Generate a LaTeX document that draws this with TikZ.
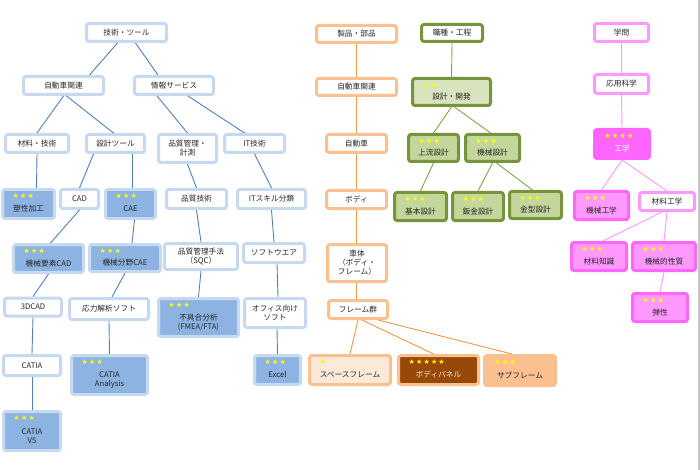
\documentclass[tikz,border=0pt]{standalone}
\usepackage{fontspec}
\setmainfont{Noto Sans CJK JP}
\newfontfamily\symfont{DejaVu Sans}

\definecolor{bluebd}{HTML}{C6D9F1}
\definecolor{bluefl}{HTML}{8DB3E2}
\definecolor{blueln}{HTML}{4F81BD}
\definecolor{orangebd}{HTML}{FAC08F}
\definecolor{orangeln}{HTML}{F79646}
\definecolor{orangelt}{HTML}{FDE9D9}
\definecolor{brownfl}{HTML}{984807}
\definecolor{greenbd}{HTML}{77933C}
\definecolor{greenln}{HTML}{86A34A}
\definecolor{greenlt}{HTML}{D7E4BD}
\definecolor{greenfl}{HTML}{C3D69B}
\definecolor{pinkbd}{HTML}{FF99FF}
\definecolor{pinkfl}{HTML}{FF66FF}
\definecolor{staryel}{HTML}{FFFF00}

\tikzset{
  box/.style={draw, line width=3pt, rounded corners=2.5pt, fill=white, align=center,
    inner sep=1pt, text=black!85, font=\fontsize{7.7}{9}\selectfont},
  bbox/.style={box, draw=bluebd},
  bfill/.style={bbox, fill=bluefl},
  obox/.style={box, draw=orangebd},
  gbox/.style={box, draw=greenbd},
  gfill/.style={gbox, fill=greenfl},
  pbox/.style={box, draw=pinkbd},
  pfill/.style={box, draw=pinkfl, fill=pinkbd},
  wh/.style 2 args={minimum width=#1, minimum height=#2},
  starlbl/.style={anchor=north west, inner sep=0pt, xshift=11.5pt, yshift=-5.5pt,
    text=staryel, font=\symfont\fontsize{7}{7}\selectfont},
  rated/.style={label={[starlbl]north west:#1}},
  link/.style={line width=0.9pt},
}

\begin{document}
\begin{tikzpicture}[x=1pt, y=-1pt]
    \useasboundingbox (0,0) rectangle (700,470);

    % Technology / tools
    \node[bbox, wh={80}{18}] (tool) at (126.5,32.5) {技術・ツール};
    \node[bbox, wh={80}{18}] (auto) at (63.5,85.5) {自動車関連};
    \node[bbox, wh={79}{18}] (info) at (174,85.5) {情報サービス};
    \node[bbox, wh={63}{18}] (mat) at (37,143.5) {材料・技術};
    \node[bbox, wh={58}{18}] (dtool) at (115.5,143.5) {設計ツール};
    \node[bbox, wh={58}{28}] (qm) at (187.5,148.5) {品質管理・\\計測};
    \node[bbox, wh={60}{18}] (it) at (254.5,143.5) {IT技術};
    \node[bfill, wh={52}{29}, rated=★\,★\,★] (plast) at (28.5,204) {\strut\\塑性加工};
    \node[bbox, wh={38}{19}] (cad) at (79.5,199) {CAD};
    \node[bfill, wh={50}{29}, rated=★\,★\,★] (cae) at (130.5,204) {\strut\\CAE};
    \node[bbox, wh={60}{19}] (qtech) at (196.5,199) {品質技術};
    \node[bbox, wh={68}{19}] (itskill) at (271.5,199) {ITスキル分類};
    \node[bfill, wh={70}{28}, rated=★\,★\,★] (mcad) at (48.5,258.5) {\strut\\機械要素CAD};
    \node[bfill, wh={71}{27}, rated=★\,★\,★] (mcae) at (125,258) {\strut\\機械分野CAE};
    \node[bbox, wh={73}{26}] (sqc) at (201,256.5) {品質管理手法\\（SQC）};
    \node[bbox, wh={61}{19}] (soft) at (274,253) {ソフトウエア};
    \node[bbox, wh={57}{18}] (cad3) at (33,307) {3DCAD};
    \node[bbox, wh={79}{21}] (stress) at (109,309) {応力解析ソフト};
    \node[bfill, wh={80}{38}, rated=★\,★\,★] (fmea) at (198.5,317.5) {\strut\\不具合分析\\(FMEA/FTA)};
    \node[bbox, wh={61}{29}] (office) at (275,313) {オフィス向け\\ソフト};
    \node[bbox, wh={57}{20}] (catia) at (32,365.5) {CATIA};
    \node[bfill, wh={76}{39}, rated=★\,★\,★] (ana) at (109.5,375) {\strut\\CATIA\\Analysis};
    \node[bfill, wh={46}{29}, rated=★\,★\,★] (excel) at (277.5,370) {\strut\\Excel};
    \node[bfill, wh={57}{39}, rated=★\,★\,★] (v5) at (32,431) {\strut\\CATIA\\V5};

    \draw[link, blueln] ([xshift=-9]tool.south) -- ([xshift=26]auto.north);
    \draw[link, blueln] ([xshift=9]tool.south) -- ([xshift=-16]info.north);
    \draw[link, blueln] (auto.south) -- (mat.north);
    \draw[link, blueln] ([xshift=3]auto.south) -- ([xshift=-2]dtool.north);
    \draw[link, blueln] ([xshift=-17]info.south) -- (qm.north);
    \draw[link, blueln] ([xshift=14]info.south) -- ([xshift=-10]it.north);
    \draw[link, blueln] (mat.south) -- ([xshift=8]plast.north);
    \draw[link, blueln] ([xshift=-22]dtool.south) -- (cad.north);
    \draw[link, blueln] ([xshift=17]dtool.south) -- ([xshift=2]cae.north);
    \draw[link, blueln] (cad.south) -- ([xshift=2]mcad.north);
    \draw[link, blueln] ([xshift=4]cae.south) -- ([xshift=7]mcae.north);
    \draw[link, blueln] (mcad.south) -- (cad3.north);
    \draw[link, blueln] (mcae.south) -- ([xshift=3]stress.north);
    \draw[link, blueln] (cad3.south) -- (catia.north);
    \draw[link, blueln] (catia.south) -- (v5.north);
    \draw[link, blueln] (stress.south) -- (ana.north);
    \draw[link, blueln] (qm.south) -- (qtech.north);
    \draw[link, blueln] (qtech.south) -- (sqc.north);
    \draw[link, blueln] (sqc.south) -- (fmea.north);
    \draw[link, blueln] (it.south) -- (itskill.north);
    \draw[link, blueln] (itskill.south) -- (soft.north);
    \draw[link, blueln] ([xshift=3]soft.south) -- ([xshift=3]office.north);
    \draw[link, blueln] ([xshift=2]office.south) -- (excel.north);

    % Products / parts
    \node[obox, wh={80}{17}] (prod) at (356.5,34) {製品・部品};
    \node[obox, wh={80}{17}] (oauto) at (356.5,87) {自動車関連};
    \node[obox, wh={60}{18}] (car) at (356.5,143.5) {自動車};
    \node[obox, wh={60}{18}] (body) at (356.5,199.5) {ボディ};
    \node[obox, wh={59}{37}] (shell) at (357,263) {車体\\（ボディ・\\フレーム）};
    \node[obox, wh={59}{18}] (frames) at (358,309.5) {フレーム群};
    \node[obox, fill=orangelt, wh={81}{29}, rated=★] (space) at (350,370) {\strut\\スペースフレーム};
    \node[obox, fill=brownfl, text=white!92!black, wh={80}{29}, rated=★\,★\,★\,★\,★] (panel) at (438.5,370) {\strut\\ボディパネル};
    \node[obox, fill=orangebd, wh={71}{30}, rated=★\,★\,★] (sub) at (520,370.5) {\strut\\サブフレーム};

    \draw[link, orangeln] (prod.south) -- (oauto.north);
    \draw[link, orangeln] (oauto.south) -- (car.north);
    \draw[link, orangeln] (car.south) -- (body.north);
    \draw[link, orangeln] (body.south) -- ([xshift=-0.5]shell.north);
    \draw[link, orangeln] ([xshift=-0.5]shell.south) -- ([xshift=-1.5]frames.north);
    \draw[link, orangeln] (frames.south) -- (space.north);
    \draw[link, orangeln] ([xshift=4]frames.south) -- ([xshift=-5]panel.north);
    \draw[link, orangeln] ([xshift=20]frames.south) -- ([xshift=-8]sub.north);

    % Job / process
    \node[gbox, wh={61}{17}] (job) at (452,33) {職種・工程};
    \node[gbox, fill=greenlt, wh={78}{27}, rated=★\,★] (dev) at (451.5,92) {\strut\\設計・開発};
    \node[gfill, wh={50}{27}, rated=★\,★\,★] (up) at (433.5,148) {\strut\\上流設計};
    \node[gfill, wh={54}{27}, rated=★\,★\,★] (mech) at (492.5,148) {\strut\\機械設計};
    \node[gfill, wh={52}{28}, rated=★\,★\,★] (basic) at (420.5,206.5) {\strut\\基本設計};
    \node[gfill, wh={51}{28}, rated=★\,★\,★] (sheet) at (478,206.5) {\strut\\鈑金設計};
    \node[gfill, wh={52}{27}, rated=★\,★\,★] (die) at (535.5,205) {\strut\\金型設計};

    \draw[link, greenln] (job.south) -- (dev.north);
    \draw[link, greenln] (dev.south) -- (up.north);
    \draw[link, greenln] ([xshift=3]dev.south) -- ([xshift=-2]mech.north);
    \draw[link, greenln] (up.south) -- (basic.north);
    \draw[link, greenln] (mech.south) -- (sheet.north);
    \draw[link, greenln] ([xshift=4]mech.south) -- ([xshift=-3]die.north);

    % Academic fields
    \node[pbox, wh={54}{18}] (acad) at (621.5,32.5) {学問};
    \node[pbox, wh={54}{19}] (appl) at (621.5,84) {応用科学};
    \node[box, draw=pinkfl, fill=pinkfl, text=white, wh={55}{29}, rated=★\,★\,★\,★] (eng) at (622,144) {\strut\\工学};
    \node[pfill, wh={54}{28}, rated=★\,★\,★] (meng) at (601.5,205.5) {\strut\\機械工学};
    \node[pbox, wh={55}{18}] (maeng) at (667,201.5) {材料工学};
    \node[pfill, wh={55}{28}, rated=★\,★\,★] (makn) at (599,256.5) {\strut\\材料知識};
    \node[pfill, wh={63}{28}, rated=★\,★\,★] (mprop) at (664,256.5) {\strut\\機械的性質};
    \node[pfill, wh={55}{28}, rated=★\,★\,★] (elast) at (660,307.5) {\strut\\弾性};

    \draw[link, pinkbd] (acad.south) -- (appl.north);
    \draw[link, pinkbd] (appl.south) -- (eng.north);
    \draw[link, pinkbd] (eng.south) -- (meng.north);
    \draw[link, pinkbd] (eng.south) -- (maeng.north);
    \draw[link, pinkbd] ([xshift=-5]maeng.south) -- ([xshift=4]makn.north);
    \draw[link, pinkbd] (maeng.south) -- (mprop.north);
    \draw[link, pinkbd] (mprop.south) -- (elast.north);

    % right frame edge
    \draw[gray!45, line width=1.5pt] (699,0) -- (699,470);
\end{tikzpicture}
\end{document}
